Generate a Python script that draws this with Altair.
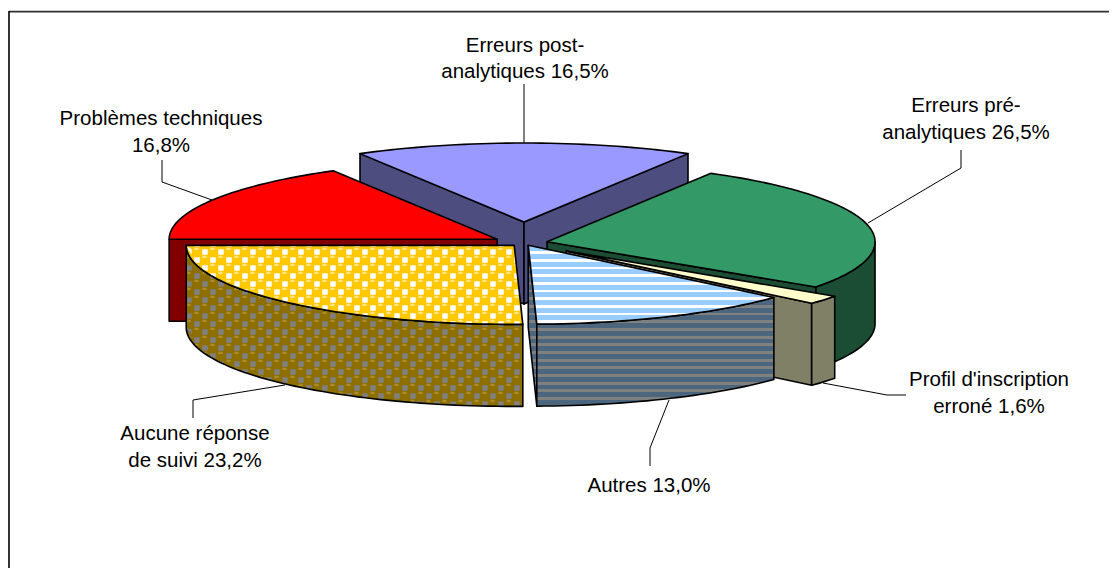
import math
import altair as alt

# ---- values -----------------------------------------------------------------
slices = ["Erreurs post-analytiques", "Erreurs pré-analytiques", "Profil d'inscription erroné",
          "Autres", "Aucune réponse de suivi", "Problèmes techniques"]
slice_degrees = [60, 95, 6.5, 47, 91.5, 60]      # sweep of every slice as drawn
explode = [87, 23.6, 53.5, 10, 14, 31]           # how far each slice is pulled out
label_texts = ["Erreurs post-\nanalytiques 16,5%", "Erreurs pré-\nanalytiques 26,5%",
               "Profil d'inscription\nerroné 1,6%", "Autres 13,0%",
               "Aucune réponse\nde suivi 23,2%", "Problèmes techniques\n16,8%"]

# ---- layout and style --------------------------------------------------------
first_angle = -30
M = 8
W, H = 1101, 560
CX, CY = 524 - M, 243 - M
RX, RY = 328, 79
DEPTH = 82
LABEL_X = [525, 966, 989, 649, 195, 161]
LABEL_Y = [51.5, 112, 386, 492, 440, 125]
LEADERS = [
    [(524, 84), (524, 143)],
    [(868, 223), (961, 168), (961, 150)],
    [(823, 383), (887, 395), (906, 395)],
    [(669, 400), (650, 448), (650, 466)],
    [(285, 385), (193, 400), (193, 418)],
    [(212, 200), (162, 182), (162, 160)],
]
FONT = "Liberation Sans"
FS = 20.5
EDGE = 1.6
PROJ = dict(type="identity", scale=1, translate=[0, 0])
STRIPE = dict(period=7.67, phase=261.8 - M, duty=0.62)

# ---- geometry from the values --------------------------------------------------
bounds = [first_angle]
for d in slice_degrees:
    bounds.append(bounds[-1] + d)
K = RY / RX
apex = []
for i in range(len(slices)):
    mid = math.radians((bounds[i] + bounds[i + 1]) / 2)
    apex.append((CX + explode[i] * math.sin(mid), CY - explode[i] * K * math.cos(mid)))


def rim(i, deg, dy=0):
    a = math.radians(deg)
    return (apex[i][0] + RX * math.sin(a), apex[i][1] - RY * math.cos(a) + dy)


def arc(i, d0, d1, dy=0):
    n = max(2, int(abs(d1 - d0) / 1.5))
    return [rim(i, d0 + (d1 - d0) * k / n, dy) for k in range(n + 1)]


def top(i):
    return [apex[i]] + arc(i, bounds[i], bounds[i + 1])


def wall(i, d0, d1):
    return arc(i, d0, d1) + arc(i, d1, d0, DEPTH)


def cut(i, deg):
    a = apex[i]
    return [a, rim(i, deg), rim(i, deg, DEPTH), (a[0], a[1] + DEPTH)]


def feature(polys):
    rings = [[[round(x, 2), round(y, 2)] for x, y in (p + [p[0]])] for p in polys]
    return {"type": "Feature", "properties": {},
            "geometry": {"type": "MultiPolygon", "coordinates": [[r] for r in rings]}}


def shape(polys, fill, stroke="black", sw=EDGE):
    kw = dict(fill=fill)
    if stroke:
        kw.update(stroke=stroke, strokeWidth=sw, strokeJoin="round")
    else:
        kw.update(strokeWidth=0)
    return alt.Chart(alt.Data(values=[feature(polys)])).mark_geoshape(**kw).project(**PROJ)


def stripes(poly, c1, c2, period, phase, duty):
    ys = [p[1] for p in poly]
    y0, y1 = min(ys), max(ys)
    h = y1 - y0
    stops = []
    k = math.floor((y0 - phase) / period)
    while phase + k * period < y1:
        a = phase + k * period
        b = a + period * duty
        c = a + period
        for t0, t1, col in ((a, b, c1), (b, c, c2)):
            o0 = min(1, max(0, (t0 - y0) / h))
            o1 = min(1, max(0, (t1 - y0) / h))
            if o1 > o0:
                stops.append(alt.GradientStop(offset=o0, color=col))
                stops.append(alt.GradientStop(offset=o1, color=col))
        k += 1
    return alt.Gradient(gradient="linear", x1=0, x2=0, y1=0, y2=1, stops=stops)


def clamp(v, lo, hi):
    return max(lo, min(hi, v))


def rim_y(i, x):
    t = clamp((x - apex[i][0]) / RX, -1, 1)
    return apex[i][1] + RY * math.sqrt(1 - t * t)


def area(p):
    return abs(sum(p[k][0] * p[(k + 1) % len(p)][1] - p[(k + 1) % len(p)][0] * p[k][1]
                   for k in range(len(p)))) / 2


def blob(x, y, rx, ry, n, turn=0.0):
    return [(x + rx * math.cos(2 * math.pi * k / n + turn), y + ry * math.sin(2 * math.pi * k / n + turn))
            for k in range(n)]


def texture(i, on_wall, dx, dy, rx, ry, n, turn=0.0):
    """Lattice of the 'Aucune réponse' fill, trimmed to one face of the slice."""
    ax, ay = apex[i]
    ex, ey = rim(i, bounds[i])
    left = ax - RX
    out = []
    x0, y0 = 413 - M, 260 - M
    for a in range(-30, 30):
        for b in range(-30, 30):
            for off in (0, 8):
                cx = x0 + a * 16 + off + dx
                cy = y0 + b * 16 + off + dy
                if not (left - 8 < cx < ex + 8 and ay - 8 < cy < ey + DEPTH + 8):
                    continue
                pts = []
                for x, y in blob(cx, cy, rx, ry, n, turn):
                    if on_wall:
                        x = clamp(x, left, ex)
                        y = clamp(y, rim_y(i, x), rim_y(i, x) + DEPTH)
                    else:
                        y = clamp(y, ay, rim_y(i, x))
                        x = clamp(x, left, ax + (y - ay) * (ex - ax) / (ey - ay))
                        y = clamp(y, ay, rim_y(i, x))
                    pts.append((x, y))
                if area(pts) > 0.4:
                    out.append(pts)
    return out


BLUE, GREEN, PROFIL, AUTRES, AUCUNE, TECH = range(6)
layers = []

# frame
layers.append(alt.Chart(alt.Data(values=[{"a": 0}])).mark_rule(color="#303030", strokeWidth=1.6).encode(
    x=alt.value(1), x2=alt.value(W), y=alt.value(3.6)))
layers.append(alt.Chart(alt.Data(values=[{"a": 0}])).mark_rule(color="black", strokeWidth=1.6).encode(
    x=alt.value(1), y=alt.value(3), y2=alt.value(H)))

# leaders sit under the slices
for pts in LEADERS:
    rows = [{"x": x - M, "y": y - M, "o": k} for k, (x, y) in enumerate(pts)]
    layers.append(alt.Chart(alt.Data(values=rows)).mark_line(color="black", strokeWidth=1).encode(
        x=alt.X("x:Q", scale=None), y=alt.Y("y:Q", scale=None), order="o:Q"))

# Erreurs post-analytiques
layers += [shape([cut(BLUE, bounds[BLUE])], "#4D4D80"),
           shape([cut(BLUE, bounds[BLUE + 1])], "#4D4D80"),
           shape([top(BLUE)], "#9999FF")]
# Erreurs pré-analytiques
layers += [shape([wall(GREEN, 90, bounds[GREEN + 1])], "#1A4D33"),
           shape([cut(GREEN, bounds[GREEN + 1])], "#1A4D33"),
           shape([top(GREEN)], "#339966")]
# Problèmes techniques
layers += [shape([cut(TECH, bounds[TECH])], "#800000"),
           shape([top(TECH)], "#FF0000")]
# Profil d'inscription erroné
layers += [shape([cut(PROFIL, bounds[PROFIL + 1])], "#808066"),
           shape([wall(PROFIL, bounds[PROFIL], bounds[PROFIL + 1])], "#808066"),
           shape([top(PROFIL)], "#FFFFCC")]
# Autres
p = cut(AUTRES, bounds[AUTRES + 1])
layers.append(shape([p], stripes(p, "#4D6680", "#808080", **STRIPE)))
p = wall(AUTRES, bounds[AUTRES], bounds[AUTRES + 1])
layers.append(shape([p], stripes(p, "#4D6680", "#808080", **STRIPE)))
p = top(AUTRES)
layers.append(shape([p], stripes(p, "#99CCFF", "#FFFFFF", **STRIPE)))
# Aucune réponse de suivi
HOLE = dict(dx=8, dy=0, rx=3.9, ry=3.9, n=4, turn=math.pi / 4)
GLINT = dict(dx=-0.5, dy=-3, rx=2.6, ry=1.3, n=10)
p = wall(AUCUNE, bounds[AUCUNE], 270)
layers.append(shape([p], "#8C6F00", stroke=None))
layers.append(shape(texture(AUCUNE, True, **HOLE), "#808080", stroke=None))
layers.append(shape(texture(AUCUNE, True, **GLINT), "#A88C2A", stroke=None))
layers.append(shape([p], "transparent"))
p = top(AUCUNE)
layers.append(shape([p], "#FFC800", stroke=None))
layers.append(shape(texture(AUCUNE, False, **HOLE), "#FFFFFF", stroke=None))
layers.append(shape(texture(AUCUNE, False, **GLINT), "#FFE680", stroke=None))
layers.append(shape([p], "transparent"))

# labels
rows = [{"t": t, "x": x - M, "y": y - M} for t, x, y in zip(label_texts, LABEL_X, LABEL_Y)]
layers.append(alt.Chart(alt.Data(values=rows)).mark_text(
    font=FONT, fontSize=FS, color="black", align="center", baseline="alphabetic",
    lineBreak="\n", lineHeight=26.5).encode(
    x=alt.X("x:Q", scale=None), y=alt.Y("y:Q", scale=None), text="t:N"))

chart = alt.layer(*layers).properties(
    width=W, height=H, padding=0, autosize=alt.AutoSizeParams(type="none"), background="white"
).configure_view(strokeWidth=0)

chart.save("out.html", embed_options={"renderer": "svg", "actions": False})
